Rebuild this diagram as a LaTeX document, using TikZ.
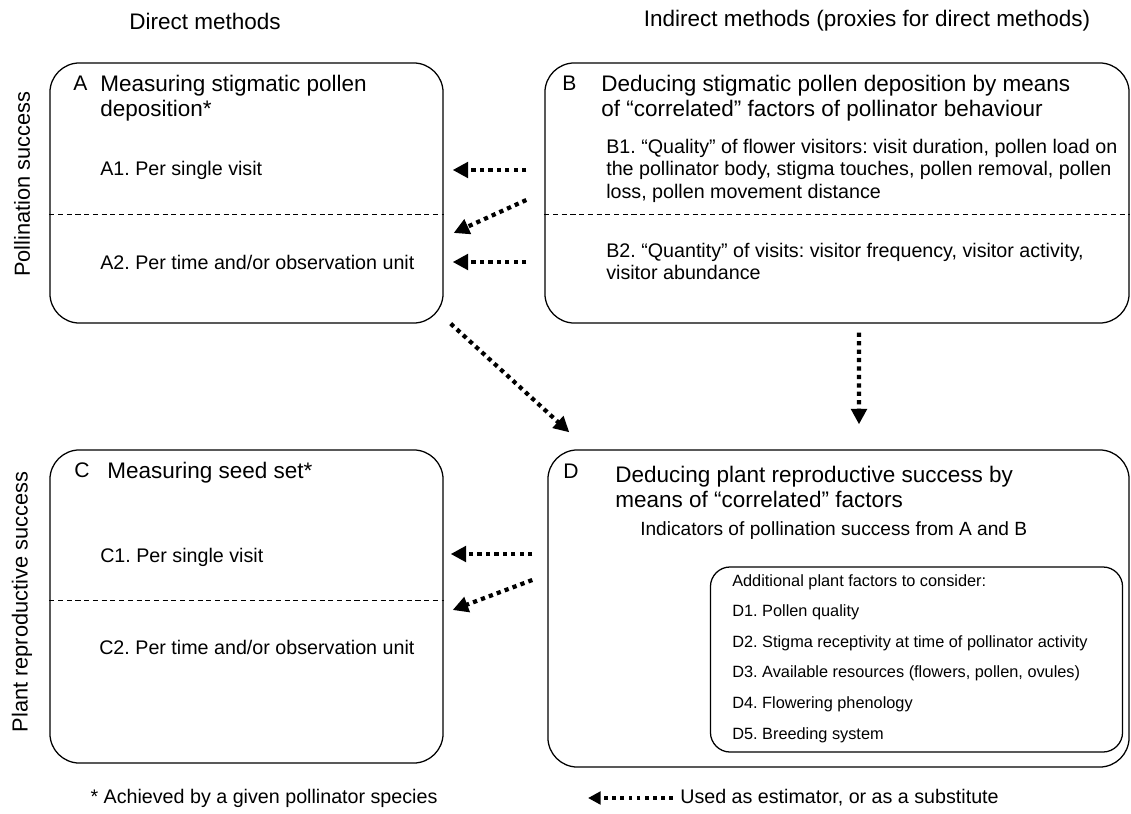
\documentclass[tikz,border=0pt]{standalone}
\usepackage{fontspec}
\setmainfont{Liberation Sans}
\frenchspacing
\usetikzlibrary{arrows.meta, calc}
\tikzstyle{panel} = [rectangle, rounded corners=21pt, draw=black, line width=0.9pt, inner sep=0pt]
\tikzstyle{inner} = [rectangle, rounded corners=14pt, draw=black, line width=0.9pt, inner sep=0pt]
\tikzstyle{sep} = [line width=0.6pt, dash pattern=on 3.6pt off 2.6pt]
\tikzstyle{arrow} = [line width=3pt, dash pattern=on 3pt off 3pt, -{Triangle[length=11pt, width=11pt]}]
\tikzstyle{keyarrow} = [line width=2.3pt, dash pattern=on 2.6pt off 3.2pt, -{Triangle[length=9pt, width=9pt]}]
\tikzstyle{letter} = [anchor=west, inner sep=0pt, font=\fontsize{15}{18}\selectfont]
\tikzstyle{title} = [anchor=west, align=left, inner sep=0pt, font=\fontsize{16}{17.7}\selectfont]
\tikzstyle{item} = [anchor=west, align=left, inner sep=0pt, font=\fontsize{14}{16}\selectfont]
\tikzstyle{small} = [anchor=west, align=left, inner sep=0pt, font=\fontsize{11.6}{21.7}\selectfont]
\tikzstyle{head} = [inner sep=0pt, font=\fontsize{16}{18}\selectfont]
\tikzstyle{note} = [inner sep=0pt, font=\fontsize{14}{16}\selectfont]

\begin{document}
\begin{tikzpicture}[x=0.025cm, y=-0.025cm]
	\useasboundingbox (0,0) rectangle (1131,814);
	% Panels
	\node(A)[panel, minimum width=9.825cm, minimum height=6.5cm] at (246.5,193) {};
	\node(B)[panel, minimum width=14.6cm, minimum height=6.5cm] at (837,193) {};
	\node(C)[panel, minimum width=9.825cm, minimum height=7.825cm] at (246.5,606.5) {};
	\node(D)[panel, minimum width=14.525cm, minimum height=7.925cm] at (838.5,608.5) {};
	\node(E)[inner, minimum width=10.3cm, minimum height=4.625cm] at (916.5,659.5) {};
	\coordinate(sepA) at (0,214);
	\coordinate(sepC) at (0,600);
	\draw[sep] (A.west |- sepA) -- (A.east |- sepA);
	\draw[sep] (B.west |- sepA) -- (B.east |- sepA);
	\draw[sep] (C.west |- sepC) -- (C.east |- sepC);

	% Headings
	\node(direct)[head] at (205,21) {Direct methods};
	\node(indirect)[head] at (867,21) {Indirect methods (proxies for direct methods)};
	\node(pollsucc)[head, rotate=90, font=\fontsize{15.5}{18}\selectfont] at (22,184) {Pollination success};
	\node(plantsucc)[head, rotate=90, font=\fontsize{15.5}{18}\selectfont] at (22,602) {Plant reproductive success};

	% Panel A
	\node(Alab)[letter] at (73,83) {A};
	\node(Atitle)[title] at (100,98.5) {Measuring stigmatic pollen\\deposition*};
	\node(A1)[item] at (100,170) {A1. Per single visit};
	\node(A2)[item] at (100,262) {A2. Per time and/or observation unit};

	% Panel B
	\node(Blab)[letter] at (562,83) {B};
	\node(Btitle)[title] at (601,98.5) {Deducing stigmatic pollen deposition by means\\of “correlated” factors of pollinator behaviour};
	\node(B1)[item] at (606,170.5) {B1. “Quality” of flower visitors: visit duration, pollen load on\\the pollinator body, stigma touches, pollen removal, pollen\\loss, pollen movement distance};
	\node(B2)[item] at (606,261.5) {B2. “Quantity” of visits: visitor frequency, visitor activity,\\visitor abundance};

	% Panel C
	\node(Clab)[letter] at (74,470) {C};
	\node(Ctitle)[title] at (107,473) {Measuring seed set*};
	\node(C1)[item] at (100,557) {C1. Per single visit};
	\node(C2)[item] at (99,647) {C2. Per time and/or observation unit};

	% Panel D
	\node(Dlab)[letter] at (563,471) {D};
	\node(Dtitle)[title] at (615,487) {Deducing plant reproductive success by\\means of “correlated” factors};
	\node(Dind)[item, font=\fontsize{13.6}{16}\selectfont] at (640,531) {Indicators of pollination success from A and B};
	\node(Dlist)[small] at (732,658.5) {Additional plant factors to consider:\\D1. Pollen quality\\D2. Stigma receptivity at time of pollinator activity\\D3. Available resources (flowers, pollen, ovules)\\D4. Flowering phenology\\D5. Breeding system};

	% Notes
	\node(foot)[note] at (264,798) {* Achieved by a given pollinator species};
	\node(key)[note, anchor=west] at (680,798) {Used as estimator, or as a substitute};
	\coordinate(keytip) at (588,798);

	% Arrows
	\draw [arrow] ([xshift=-0.45cm]A1 -| B.west) -- ([xshift=0.225cm]A1 -| A.east);
	\draw [arrow] ([shift={(-18,-14)}]B.west |- sepA) -- ([shift={(10,19)}]A.east |- sepA);
	\draw [arrow] ([xshift=-0.45cm]A2 -| B.west) -- ([xshift=0.225cm]A2 -| A.east);
	\draw [arrow] ([shift={(7,0)}]A.south east) -- ([shift={(22,-17)}]D.north west);
	\draw [arrow] ([shift={(22,9)}]B.south) -- ([shift={(20.5,-25)}]D.north);
	\draw [arrow] ([shift={(-15,-3)}]C1 -| D.west) -- ([shift={(7,-3)}]C1 -| C.east);
	\draw [arrow] ([shift={(-15,-20)}]D.west |- sepC) -- ([shift={(9,10)}]C.east |- sepC);
	\draw [keyarrow, shorten <=5pt] (key.west) -- (keytip);
\end{tikzpicture}
\end{document}
